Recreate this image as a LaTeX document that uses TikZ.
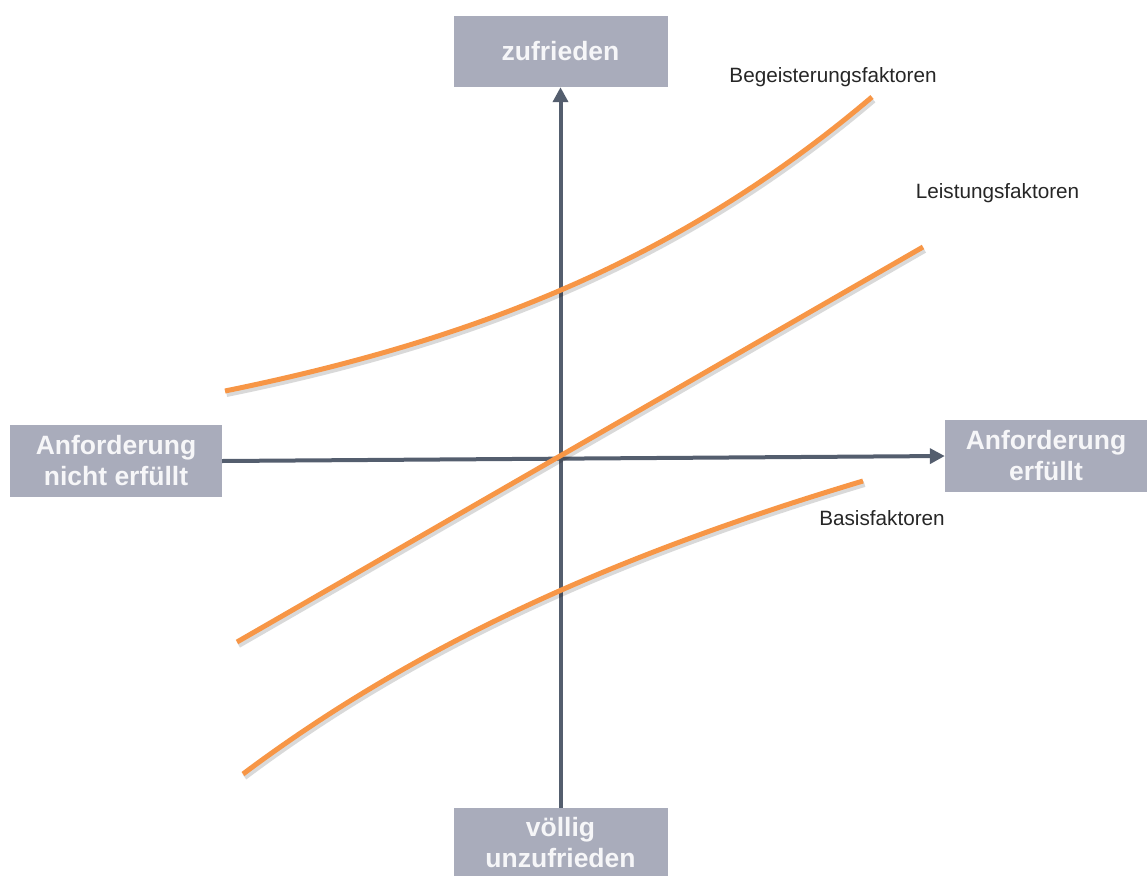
\documentclass[tikz,border=0pt]{standalone}
\usepackage{fontspec}
\setmainfont{Liberation Sans}
\usetikzlibrary{arrows.meta}
\definecolor{boxgray}{HTML}{A9ACBB}
\definecolor{axisgray}{HTML}{545E6E}
\definecolor{curveorange}{HTML}{F79646}
\definecolor{boxtext}{HTML}{F6F6F8}
\definecolor{labeltext}{HTML}{262626}

\begin{document}
\begin{tikzpicture}[x=1pt,y=-1pt,
  axisbox/.style={fill=boxgray, text=boxtext, font=\bfseries\fontsize{26.5}{31}\selectfont,
    align=center, inner sep=0pt, anchor=center},
  axisline/.style={draw=axisgray, line width=4pt, -{Triangle[length=15pt,width=15pt]}},
  factor/.style={draw=curveorange, line width=5pt},
  factorshadow/.style={draw=black, opacity=0.15, line width=6pt,
    transform canvas={shift={(1.5pt,-3pt)}}},
  factorlabel/.style={font=\fontsize{20.7}{24}\selectfont, text=labeltext, inner sep=0pt, anchor=base}
]
\useasboundingbox (0,0) rectangle (1147,875);

% axis end boxes
\node[axisbox, minimum width=214pt, minimum height=71pt] (top) at (560.5,51.5) {zufrieden};
\node[axisbox, minimum width=214pt, minimum height=70pt] (bottom) at (560.5,843) {völlig\\unzufrieden};
\node[axisbox, minimum width=212pt, minimum height=72pt] (left) at (116,461) {Anforderung\\nicht erfüllt};
\node[axisbox, minimum width=202pt, minimum height=72pt] (right) at (1046,456) {Anforderung\\erfüllt};

% axes
\draw[axisline] (bottom.north) -- (top.south);
\draw[axisline] (left.east) -- (right.west);

% factor curves: shadows first
\draw[factorshadow] (225,391) .. controls (475,340) and (680,260) .. (872,97);
\draw[factorshadow] (237,642) -- (923,247);
\draw[factorshadow] (243,774) .. controls (443,624) and (663,541) .. (863,481);

\draw[factor] (225,391) .. controls (475,340) and (680,260) .. (872,97);
\draw[factor] (237,642) -- (923,247);
\draw[factor] (243,774) .. controls (443,624) and (663,541) .. (863,481);

% factor labels
\node[factorlabel] (begeisterung) at (833,82) {Begeisterungsfaktoren};
\node[factorlabel] (leistung) at (997.5,198) {Leistungsfaktoren};
\node[factorlabel] (basis) at (882,525) {Basisfaktoren};
\end{tikzpicture}
\end{document}
